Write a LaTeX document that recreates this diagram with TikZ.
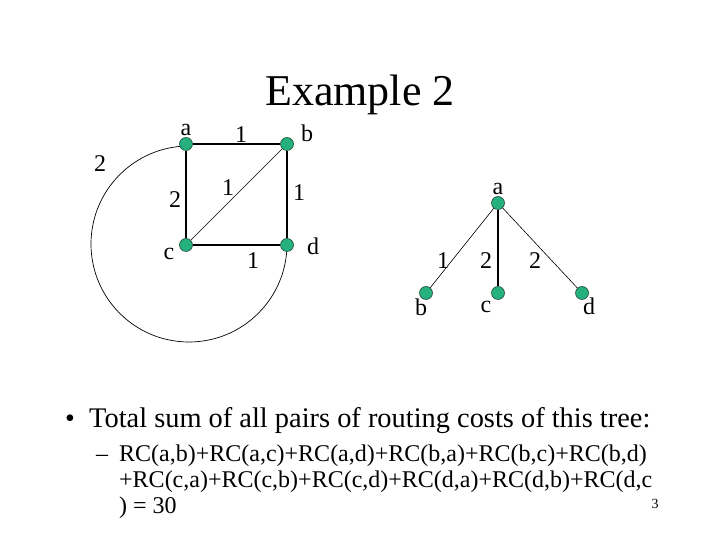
\documentclass[tikz,border=0pt]{standalone}
\usepackage{fontspec}
\setmainfont{Liberation Serif}
\usetikzlibrary{positioning, backgrounds}
\definecolor{vgreen}{HTML}{26B07E}
\definecolor{vrim}{HTML}{1F4D3C}
\tikzset{
  vtx/.style={circle, fill=vgreen, draw=vrim, line width=0.6pt, inner sep=0pt, minimum size=13pt},
  wlbl/.style={inner sep=0pt},
  txtline/.style={anchor=base west, inner sep=0pt}
}

\begin{document}
\begin{tikzpicture}[x=1pt, y=1pt, font=\fontsize{24}{28}\selectfont]
  \useasboundingbox (0,0) rectangle (720,540);
  \node (title) at (360,445) {\fontsize{44}{50}\selectfont Example 2};

  % left graph
  \foreach \n/\x/\y in {ga/186/396, gb/287/396, gc/186/295, gd/287/295}
    \node[vtx] (\n) at (\x,\y) {};
  \draw[line width=1.1pt] (ga) -- (gb) -- (gd) -- (gc) -- (ga);
  \draw[line width=0.6pt] (gc) -- (gb);
  \begin{scope}[on background layer]
    \draw[line width=0.7pt] (ga.center) ++(3,-2) arc[start angle=90, end angle=360, radius=98];
  \end{scope}
  \foreach \n/\x/\y/\t in {na/186/410/a, nb/307/407/b, nc/169/286/c, nd/313/294/d,
    wab/241/405/1, wbd/299/347/1, wcd/253/279/1, wcb/228/352/1, wac/175/340/2, warc/100/376/2}
    \node[wlbl] (\n) at (\x,\y) {\t};

  % tree
  \foreach \n/\x/\y in {ta/498/337, tb/426/247, tc/498/247, td/582/247}
    \node[vtx] (\n) at (\x,\y) {};
  \draw[line width=0.6pt] (ta) -- (tb);
  \draw[line width=1.1pt] (ta) -- (tc);
  \draw[line width=0.6pt] (ta) -- (td);
  \foreach \n/\x/\y/\t in {ma/498/351/a, mb/421/233/b, mc/486/233/c, md/589/234/d,
    vab/443/279/1, vac/486/279/2, vad/535/279/2}
    \node[wlbl] (\n) at (\x,\y) {\t};

  % text
  \node[txtline] (bul) at (65,112) {\fontsize{28}{32}\selectfont\textbullet};
  \node[txtline] (sum) at (89,112) {\fontsize{28.4}{32}\selectfont Total sum of all pairs of routing costs of this tree:};
  \node[txtline] (dash) at (96,78) {--};
  \node[txtline] (rca) at (119,78) {RC(a,b)+RC(a,c)+RC(a,d)+RC(b,a)+RC(b,c)+RC(b,d)};
  \node[txtline] (rcb) at (119,52) {+RC(c,a)+RC(c,b)+RC(c,d)+RC(d,a)+RC(d,b)+RC(d,c};
  \node[txtline] (rcc) at (119,26) {) = 30};
  \node (pg) at (655,36) {\fontsize{14}{16}\selectfont 3};
\end{tikzpicture}
\end{document}
